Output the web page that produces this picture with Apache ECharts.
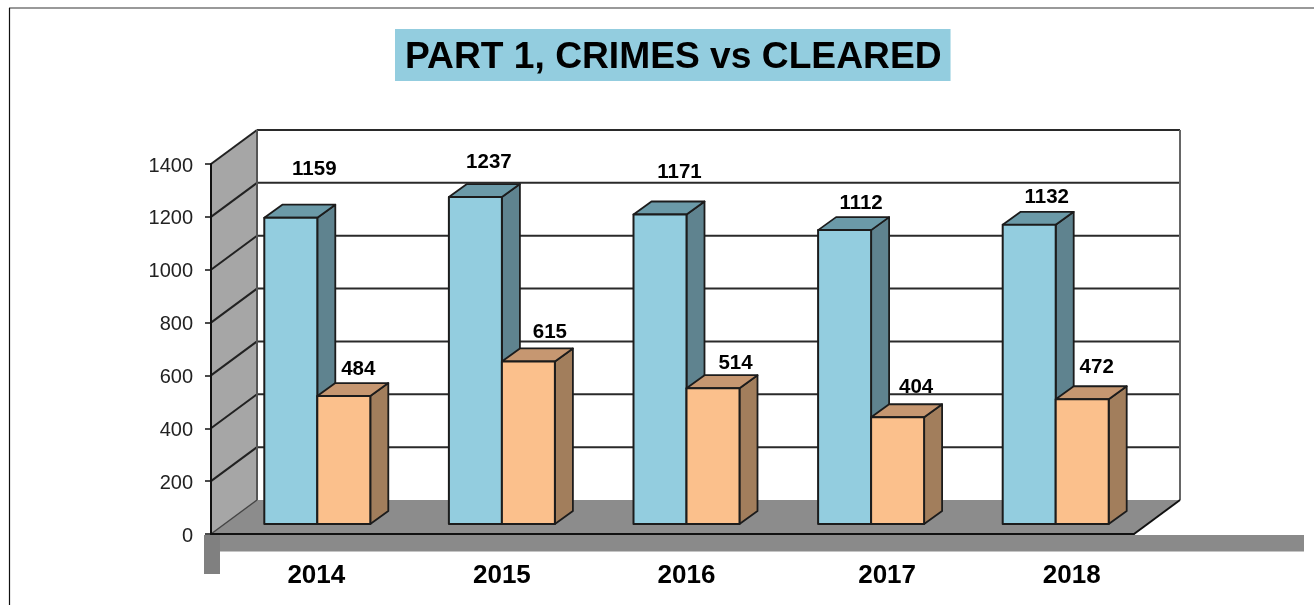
<!DOCTYPE html>
<html><head><meta charset="utf-8">
<style>html,body{margin:0;padding:0;background:#fff}#c{width:1314px;height:605px}</style>
<script src="https://cdn.jsdelivr.net/npm/echarts@6/dist/echarts.min.js"></script>
</head><body><div id="c"></div>
<script>
var years = ['2014','2015','2016','2017','2018'];
var crimes = [1159,1237,1171,1112,1132];
var cleared = [484,615,514,404,472];
var titleText = 'PART 1, CRIMES vs CLEARED';
var yMax = 1400, yStep = 200;

// label placement, px from the top of the bar's front face (layout, not data)
var crimeLabelShift = [[-3,-48],[-13,-35],[-7,-42],[-10,-27],[-9,-27]];
var clearedLabelShift = [[41,-27],[48,-29],[49,-25],[45,-30],[41,-32]];
var yearLabelPad = [26,28,28,60,60];

var wall = {dx:46, dy:-34}, plane = {dx:14, dy:-10}, depth = {dx:18, dy:-13}, barW = 53;
var ink = '#1c1c1c';

function poly(pts, fill, stroke, lw){
  return {type:'polygon', shape:{points:pts}, style:{fill:fill, stroke:stroke||null, lineWidth:lw||0, lineJoin:'round'}};
}
function line(x1,y1,x2,y2,c,lw){
  return {type:'line', shape:{x1:x1,y1:y1,x2:x2,y2:y2}, style:{stroke:c,lineWidth:lw,fill:null}};
}
function roomItem(params, api){
  var r = params.coordSys, L=r.x, R=r.x+r.width, T=r.y, B=r.y+r.height, dx=wall.dx, dy=wall.dy;
  var ch = [];
  ch.push(poly([[L+dx,T+dy],[R+dx,T+dy],[R+dx,B+dy],[L+dx,B+dy]],'#ffffff'));
  ch.push(poly([[L,T],[L+dx,T+dy],[L+dx,B+dy],[L,B]],'#a6a6a6'));
  ch.push(poly([[L,B],[L+dx,B+dy],[R+dx,B+dy],[R,B]],'#8c8c8c'));
  for (var v=yStep; v<=yMax; v+=yStep){
    var y = api.coord([0,v])[1];
    ch.push(line(L,y,L+dx,y+dy,'#222',2));
    ch.push(line(L+dx,y+dy,R+dx,y+dy,'#2a2a2a',2));
  }
  ch.push(line(L,B,L+dx,B+dy,'#444',1.5));
  ch.push(line(L+dx,T+dy,L+dx,B+dy,'#555',2));
  ch.push(line(R+dx,T+dy,R+dx,B+dy,'#666',2));
  ch.push(line(R,B,R+dx,B+dy,'#111',2));
  return {type:'group', children:ch};
}
function barRenderer(side, vals, shifts, cols){
  return function(params, api){
    var i = api.value(0), v = api.value(1);
    var top = api.coord([i,v]), base = api.coord([i,0]);
    var cx = top[0]+plane.dx;
    var x0 = side<0 ? cx-barW : cx, x1 = x0+barW;
    var yT = top[1]+plane.dy, yB = base[1]+plane.dy, ax=depth.dx, ay=depth.dy;
    return {type:'group', children:[
      poly([[x1,yT],[x1+ax,yT+ay],[x1+ax,yB+ay],[x1,yB]],cols[2],ink,1.8),
      poly([[x0,yT],[x0+ax,yT+ay],[x1+ax,yT+ay],[x1,yT]],cols[1],ink,1.8),
      poly([[x0,yT],[x1,yT],[x1,yB],[x0,yB]],cols[0],ink,2),
      {type:'text', style:{text:String(vals[i]), x:cx+shifts[i][0], y:yT+shifts[i][1],
        fill:'#000', font:'bold 20.5px "Liberation Sans", Arial, sans-serif', align:'center', verticalAlign:'middle'}}
    ]};
  };
}
function pairs(a){ return a.map(function(v,i){return [i,v];}); }

var chart = echarts.init(document.getElementById('c'), null, {renderer:'canvas'});
chart.setOption({
  animation:false,
  backgroundColor:'#ffffff',
  title:{text:titleText, left:395, top:29, padding:[10,9,4,10], backgroundColor:'#93CDDF',
    textStyle:{color:'#000',fontWeight:'bold',fontSize:37.2,fontFamily:'"Liberation Sans", Arial, sans-serif',lineHeight:38}},
  grid:{left:211, top:164, width:923, height:370},
  xAxis:{type:'category', data:years, z:6,
    axisLine:{show:true,onZero:false,lineStyle:{color:'#111',width:2}},
    axisTick:{show:false},
    axisLabel:{margin:29, interval:0,
      formatter:function(v,i){ return '{y'+i+'|'+v+'}'; },
      rich:yearLabelPad.reduce(function(o,p,i){
        o['y'+i]={fontSize:26,fontWeight:'bold',color:'#000',fontFamily:'"Liberation Sans", Arial, sans-serif',padding:[0,0,0,p]};
        return o;},{})}},
  yAxis:{type:'value', min:0, max:yMax, interval:yStep, z:6,
    axisLine:{show:true,lineStyle:{color:'#111',width:2}},
    axisTick:{show:true,length:6,lineStyle:{color:'#111',width:1.5}},
    splitLine:{show:false},
    axisLabel:{margin:18,fontSize:20,color:'#222',verticalAlign:'top',lineHeight:4,fontFamily:'"Liberation Sans", Arial, sans-serif',
      formatter:function(v){ return String(v); }}},
  graphic:[
    {type:'rect',shape:{x:204,y:535,width:1100,height:16.5},style:{fill:'#8a8a8a'},z:1},
    {type:'rect',shape:{x:204,y:535,width:16,height:39},style:{fill:'#808080'},z:1},
    {type:'line',shape:{x1:9,y1:8,x2:1314,y2:8},style:{stroke:'#777',lineWidth:1.5},z:1},
    {type:'line',shape:{x1:9.5,y1:8,x2:9.5,y2:605},style:{stroke:'#111',lineWidth:1.2},z:1}
  ],
  series:[
    {type:'custom',name:'room',coordinateSystem:'cartesian2d',z:1,silent:true,data:[[0,0]],encode:{x:0,y:1},clip:false,renderItem:roomItem},
    {type:'custom',name:'Crimes',coordinateSystem:'cartesian2d',z:3,data:pairs(crimes),encode:{x:0,y:1},clip:false,
      renderItem:barRenderer(-1,crimes,crimeLabelShift,['#93CDDF','#6B9AA8','#5F838F'])},
    {type:'custom',name:'Cleared',coordinateSystem:'cartesian2d',z:4,data:pairs(cleared),encode:{x:0,y:1},clip:false,
      renderItem:barRenderer(1,cleared,clearedLabelShift,['#FBC08C','#C69771','#A27E5C'])}
  ]
});
</script></body></html>
